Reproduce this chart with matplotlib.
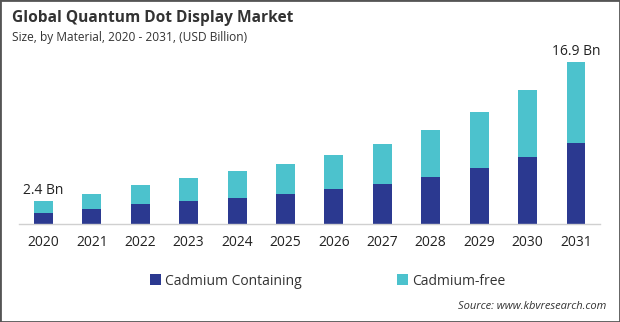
import numpy as np
import matplotlib.pyplot as plt
from matplotlib.patches import Rectangle

plt.rcParams['font.family'] = ['Open Sans', 'DejaVu Sans']

years = ['2020', '2021', '2022', '2023', '2024', '2025',
         '2026', '2027', '2028', '2029', '2030', '2031']
cadmium_containing = [1.15, 1.56, 2.09, 2.40, 2.70, 3.13, 3.65, 4.17, 4.93, 5.84, 6.99, 8.45]
cadmium_free = [1.25, 1.54, 1.98, 2.40, 2.80, 3.13, 3.55, 4.17, 4.87, 5.84, 6.98, 8.45]
totals = [a + b for a, b in zip(cadmium_containing, cadmium_free)]
total_labels = {0: '2.4 Bn', 11: '16.9 Bn'}

navy = '#2b3990'
teal = '#4cc2cd'

fig = plt.figure(figsize=(6.2, 3.22), dpi=100)
ax = fig.add_axes([0.031, 0.304, 0.937, 0.518])

x = np.arange(len(years))
w = 0.39
b1 = ax.bar(x, cadmium_containing, w, color=navy, label='Cadmium Containing')
b2 = ax.bar(x, cadmium_free, w, bottom=cadmium_containing, color=teal, label='Cadmium-free')

for i, txt in total_labels.items():
    ax.text(x[i], totals[i] + 0.35, txt, ha='center', va='bottom', fontsize=10, color='#222222')

ax.set_xlim(-0.5, len(years) - 0.5)
ax.set_ylim(0, 17.4)
ax.set_xticks(x)
ax.set_xticklabels(years, fontsize=10, color='#222222')
ax.tick_params(axis='x', length=0, pad=8)
ax.set_yticks([])
for s in ['top', 'right', 'left']:
    ax.spines[s].set_visible(False)
ax.spines['bottom'].set_color('#d0d0d0')
ax.spines['bottom'].set_linewidth(1)

fig.text(0.019, 0.945, 'Global Quantum Dot Display Market', fontsize=11.2,
         fontweight='bold', color='#333333', va='center')
fig.text(0.019, 0.884, 'Size, by Material, 2020 - 2031, (USD Billion)', fontsize=8.6,
         color='#333333', va='center')

# one legend per series so each entry sits in its own spot
for handle, xpos in [(b1, 0.242), (b2, 0.64)]:
    leg = fig.legend([handle], [handle.get_label()], loc='center left',
                     bbox_to_anchor=(xpos, 0.127), frameon=False, fontsize=10,
                     handlelength=0.8, handleheight=0.8, handletextpad=0.3,
                     labelcolor='#333333', borderaxespad=0, borderpad=0)

fig.text(0.978, 0.048, 'Source: www.kbvresearch.com', fontsize=8, style='italic',
         color='#333333', ha='right', va='center')

fig.patches.append(Rectangle((0, 0), 1, 1, transform=fig.transFigure, fill=False,
                             edgecolor='#555555', linewidth=2))

fig.savefig('out.png', dpi=100)
